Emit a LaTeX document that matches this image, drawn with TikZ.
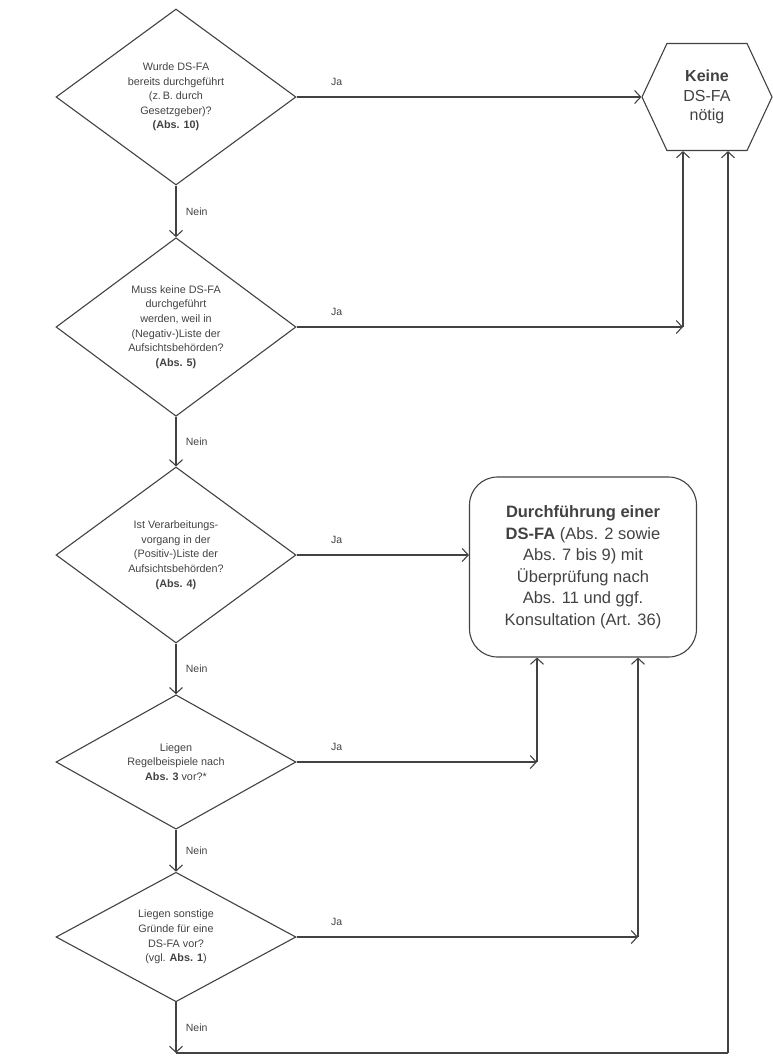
\documentclass[tikz,border=0pt]{standalone}
\usepackage{fontspec}
\setmainfont{Liberation Sans}
\usetikzlibrary{shapes.geometric,shapes.symbols,arrows.meta}
\definecolor{ink}{HTML}{424242}
\begin{document}
\begin{tikzpicture}[x=1pt,y=-1pt,
    frage/.style={diamond,draw=ink,line width=1.1pt,inner sep=0pt,align=center,
      text=ink,minimum width=240pt,font=\fontsize{10.8}{14.6}\selectfont},
    ende/.style={signal,signal to=west and east,signal pointer angle=130,draw=ink,
      line width=1.1pt,inner sep=0pt,align=center,text=ink,minimum width=130pt,
      minimum height=107pt,font=\fontsize{16}{19.5}\selectfont},
    fa/.style={rectangle,rounded corners=28pt,draw=ink,line width=1.1pt,align=center,
      text=ink,minimum width=227pt,minimum height=180pt,inner sep=0pt,
      font=\fontsize{16.5}{21.5}\selectfont},
    pfeil/.style={draw=ink,line width=1.1pt,-{Straight Barb[length=6pt,width=13pt]}},
    linie/.style={draw=ink,line width=1.1pt},
    antwort/.style={text=ink,font=\fontsize{10.5}{12}\selectfont}]
  \useasboundingbox (0,0) rectangle (773,1061);
  \draw
    (176,97) node[frage,minimum height=176pt] (f1) {Wurde DS-FA\\bereits durchgeführt\\(z.\,B. durch\\Gesetzgeber)?\\\textbf{(Abs. 10)}}
    (176,327) node[frage,minimum height=176pt] (f2) {Muss keine DS-FA\\durchgeführt\\werden, weil in\\(Negativ-)Liste der\\Aufsichtsbehörden?\\\textbf{(Abs. 5)}}
    (176,555) node[frage,minimum height=176pt] (f3) {Ist Verarbeitungs-\\vorgang in der\\(Positiv-)Liste der\\Aufsichtsbehörden?\\\textbf{(Abs. 4)}}
    (176,762) node[frage,minimum height=128pt] (f4) {Liegen\\Regelbeispiele nach\\\textbf{Abs. 3} vor?*}
    (176,937) node[frage,minimum height=124pt] (f5) {Liegen sonstige\\Gründe für eine\\DS-FA vor?\\(vgl. \textbf{Abs. 1})}
    (707,97) node[ende] (keine) {\textbf{Keine}\\DS-FA\\nötig}
    (583,567) node[fa] (dsfa) {\textbf{Durchführung einer}\\\textbf{DS-FA} (Abs. 2 sowie\\Abs. 7 bis 9) mit\\Überprüfung nach\\Abs. 11 und ggf.\\Konsultation (Art. 36)};
  \coordinate (k2) at (683,327);
  \coordinate (k4) at (537,762);
  \coordinate (k5) at (638,937);
  \coordinate (u5) at (176,1053);
  \coordinate (r5) at (728,1053);
  \begin{scope}[pfeil]
    \draw (f1.south) -- node[antwort,right,xshift=6pt] (n1) {Nein} (f2.north);
    \draw (f2.south) -- node[antwort,right,xshift=6pt] (n2) {Nein} (f3.north);
    \draw (f3.south) -- node[antwort,right,xshift=6pt] (n3) {Nein} (f4.north);
    \draw (f4.south) -- node[antwort,right,xshift=6pt] (n4) {Nein} (f5.north);
    \draw (f5.south) -- node[antwort,right,xshift=6pt] (n5) {Nein} (u5);
    \draw (f1.east) -- (keine.west);
    \draw (f2.east) -- (k2);
    \draw (f3.east) -- (f3.east -| dsfa.west);
    \draw (f4.east) -- (k4);
    \draw (f5.east) -- (k5);
    \draw (k2) -- (k2 |- keine.south);
    \draw (k4) -- (k4 |- dsfa.south);
    \draw (k5) -- (k5 |- dsfa.south);
    \draw (r5) -- (r5 |- keine.south);
  \end{scope}
  \draw[linie] (u5) -- (r5);
  \path (f1.east) ++(40,-15) node[antwort] (j1) {Ja}
        (f2.east) ++(40,-15) node[antwort] (j2) {Ja}
        (f3.east) ++(40,-15) node[antwort] (j3) {Ja}
        (f4.east) ++(40,-15) node[antwort] (j4) {Ja}
        (f5.east) ++(40,-15) node[antwort] (j5) {Ja};
\end{tikzpicture}
\end{document}
